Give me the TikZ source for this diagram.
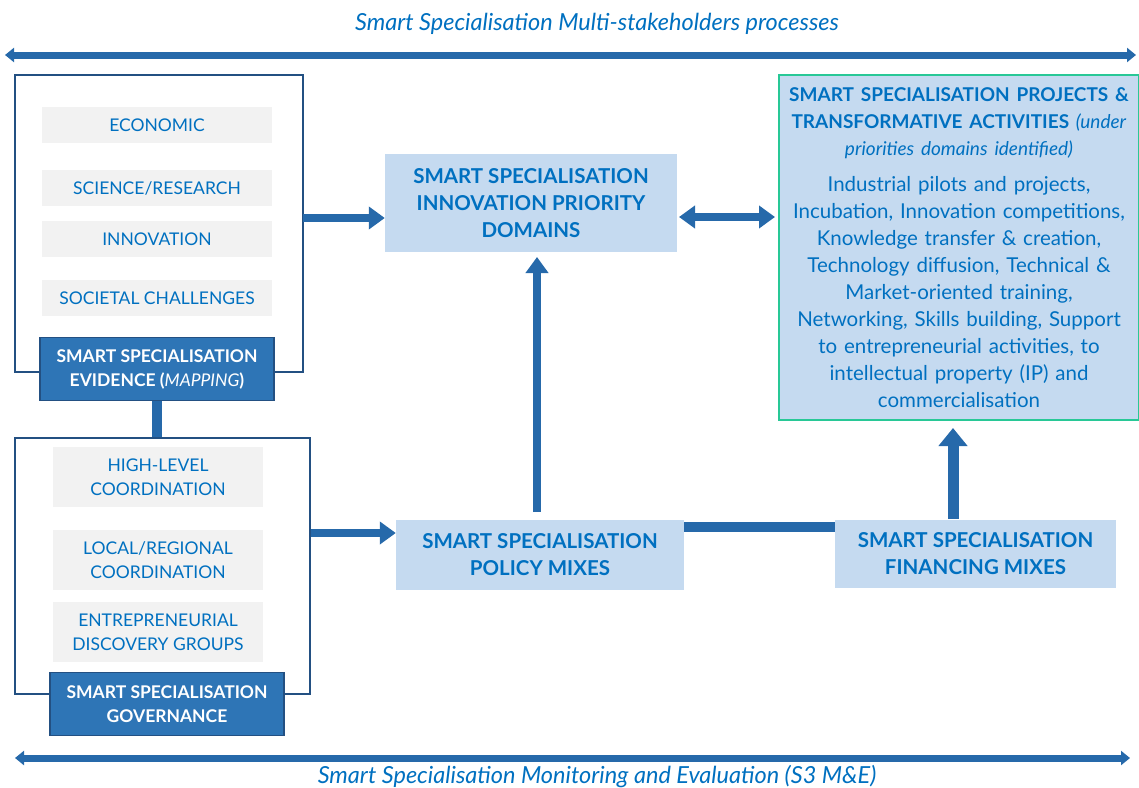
\documentclass[tikz,border=0pt]{standalone}
\usepackage{fontspec}
\setmainfont{Lato}
\usetikzlibrary{arrows.meta,positioning}
\definecolor{sstext}{RGB}{0,112,192}
\definecolor{ssline}{RGB}{38,105,170}
\definecolor{ssframe}{RGB}{35,80,130}
\definecolor{ssdark}{RGB}{46,117,182}
\definecolor{sslight}{RGB}{197,218,240}
\definecolor{ssgray}{RGB}{242,242,242}
\definecolor{ssteal}{RGB}{40,200,150}
\tikzset{
  graybox/.style={fill=ssgray, text=sstext, align=center, inner sep=0pt,
    font=\fontsize{17.5}{24}\selectfont},
  darkbox/.style={fill=ssdark, draw=ssframe, line width=1.5pt, text=white, align=center,
    inner sep=0pt, minimum width=234pt, minimum height=63pt,
    font=\bfseries\fontsize{17.5}{24}\selectfont},
  frame/.style={draw=ssframe, line width=2pt, fill=white, inner sep=0pt},
  lightbox/.style={fill=sslight, text=sstext, align=center, inner sep=0pt,
    font=\bfseries\fontsize{20.5}{27}\selectfont},
  bigarrow/.style={ssline, line width=8pt, -{Triangle[length=16pt,width=22pt]}},
  longarrow/.style={ssline, line width=7pt, {Triangle[length=9pt,width=14pt]}-{Triangle[length=9pt,width=14pt]}},
  caption/.style={text=sstext, font=\itshape\fontsize{23.5}{27}\selectfont}
}
\begin{document}
\begin{tikzpicture}[x=1pt, y=-1pt]
  \useasboundingbox (0,0) rectangle (1139,787);

  % Stakeholder processes and monitoring
  \node[caption] (toptitle) at (597,24) {Smart Specialisation Multi-stakeholders processes};
  \coordinate (tl) at (5,55);
  \coordinate (tr) at (1136,55);
  \draw[longarrow] (tl) -- (tr);
  \coordinate (bl) at (15,758);
  \coordinate (br) at (1130,758);
  \draw[longarrow] (bl) -- (br);
  \node[caption] (bottitle) at (597,777) {Smart Specialisation Monitoring and Evaluation (S3 M\&E)};

  % Evidence
  \node[frame, minimum width=288pt, minimum height=297pt] (evframe) at (159,223.5) {};
  \node[graybox, minimum width=230pt, minimum height=36pt] (econ) at (157,125) {ECONOMIC};
  \node[graybox, minimum width=230pt, minimum height=36pt] (sci) at (157,188) {SCIENCE/RESEARCH};
  \node[graybox, minimum width=230pt, minimum height=36pt] (inno) at (157,239) {INNOVATION};
  \node[graybox, minimum width=230pt, minimum height=36pt] (soc) at (157,298) {SOCIETAL CHALLENGES};

  % Governance
  \node[frame, minimum width=295pt, minimum height=256pt] (govframe) at (162.5,566) {};
  \draw[ssline, line width=10pt] (157,401) -- (157,437);
  \node[darkbox] (ev) at (157,369) {SMART SPECIALISATION\\EVIDENCE (\textmd{\itshape MAPPING})};
  \node[graybox, minimum width=210pt, minimum height=60pt] (high) at (158,477) {HIGH-LEVEL\\COORDINATION};
  \node[graybox, minimum width=210pt, minimum height=60pt] (local) at (158,560) {LOCAL/REGIONAL\\COORDINATION};
  \node[graybox, minimum width=210pt, minimum height=60pt] (entre) at (158,632) {ENTREPRENEURIAL\\DISCOVERY GROUPS};
  \node[darkbox] (gov) at (167,704) {SMART SPECIALISATION\\GOVERNANCE};

  % Central boxes
  \node[lightbox, minimum width=292pt, minimum height=98pt] (prio) at (531,203)
    {SMART SPECIALISATION\\INNOVATION PRIORITY\\DOMAINS};
  \node[lightbox, minimum width=288pt, minimum height=70pt] (policy) at (540,555)
    {SMART SPECIALISATION\\POLICY MIXES};
  \node[lightbox, minimum width=281pt, minimum height=68pt] (fin) at (975.5,554)
    {SMART SPECIALISATION\\FINANCING MIXES};
  \node[fill=sslight, draw=ssteal, line width=1.5pt, text=sstext, align=center, inner sep=0pt,
    minimum width=360pt, minimum height=345pt, text width=355pt,
    font=\fontsize{20.5}{27}\selectfont] (proj) at (959,247.5)
    {{\bfseries\fontsize{19}{27}\selectfont SMART SPECIALISATION PROJECTS \&\\
     TRANSFORMATIVE ACTIVITIES \textmd{\itshape (under}\\
     \textmd{\itshape priorities domains identified)}}\\[9pt]
     Industrial pilots and projects,\\
     Incubation, Innovation competitions,\\
     Knowledge transfer \& creation,\\
     Technology diffusion, Technical \&\\
     Market-oriented training,\\
     Networking, Skills building, Support\\
     to entrepreneurial activities, to\\
     intellectual property (IP) and\\
     commercialisation};

  % Connectors
  \coordinate (a1) at (303,218);
  \draw[bigarrow] (a1) -- (a1 -| prio.west);
  \coordinate (a2) at (311,533);
  \draw[bigarrow] (a2) -- (a2 -| policy.west);
  \coordinate (a3) at (679,217);
  \coordinate (a4) at (775,217);
  \draw[bigarrow, {Triangle[length=16pt,width=22pt]}-{Triangle[length=16pt,width=22pt]}] (a3) -- (a4);
  \coordinate (a5) at (537,512);
  \coordinate (a6) at (537,257);
  \draw[bigarrow] (a5) -- (a6);
  \coordinate (a7) at (684,527);
  \draw[ssline, line width=10pt] (a7) -- (a7 -| fin.west);
  \coordinate (a8) at (953,519);
  \coordinate (a9) at (953,428);
  \draw[ssline, line width=11pt, -{Triangle[length=18pt,width=28pt]}] (a8) -- (a9);
\end{tikzpicture}
\end{document}
